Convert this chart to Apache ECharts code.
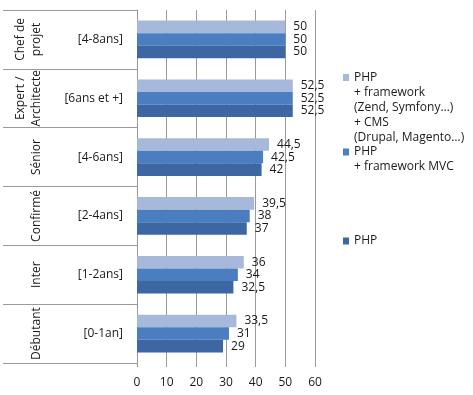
<!DOCTYPE html>
<html>
<head>
<meta charset="utf-8">
<script src="https://cdn.jsdelivr.net/npm/echarts@6/dist/echarts.min.js"></script>
<style>html,body{margin:0;padding:0;background:#fff}#c{width:473px;height:395px}</style>
</head>
<body>
<div id="c"></div>
<script>
var levels = ['Chef de\nprojet', 'Expert /\nArchitecte', 'Sénior', 'Confirmé', 'Inter', 'Débutant'];
var ranges = ['[4-8ans]', '[6ans et +]', '[4-6ans]', '[2-4ans]', '[1-2ans]', '[0-1an]'];
var nameCMS = 'PHP\n+ framework\n(Zend, Symfony…)\n+ CMS\n(Drupal, Magento…)';
var nameMVC = 'PHP\n+ framework MVC';
var namePHP = 'PHP';
var valuesCMS = [50, 52.5, 44.5, 39.5, 36, 33.5];
var valuesMVC = [50, 52.5, 42.5, 38, 34, 31];
var valuesPHP = [50, 52.5, 42, 37, 32.5, 29];
var xTicks = [0, 10, 20, 30, 40, 50, 60];

var FONT = 'Open Sans';
var TXT = '#1a1a1a';
var GRID = '#9a9a9a';

function fmt(v) { return String(v).replace('.', ','); }
function legendFmt(name) {
  var n = name.split('\n').length - 1;
  return new Array(n + 1).join('\n') + name;
}
function mkLegend(name, top) {
  return {
    data: [name], left: 343, top: top, padding: 0, orient: 'vertical',
    itemWidth: 6, itemHeight: 7, icon: 'rect', selectedMode: false,
    formatter: legendFmt,
    textStyle: { fontFamily: FONT, fontSize: 12, color: TXT, lineHeight: 15 }
  };
}
function mkSeries(name, data, color) {
  return {
    name: name, type: 'bar', data: data, yAxisIndex: 0,
    barGap: '0%', barCategoryGap: '36%',
    itemStyle: { color: color },
    label: { show: true, position: 'right', distance: 8, formatter: function (p) { return fmt(p.value); },
      fontFamily: FONT, fontSize: 12, color: TXT }
  };
}

var chart = echarts.init(document.getElementById('c'), null, { renderer: 'canvas' });
chart.setOption({
  animation: false,
  backgroundColor: '#fff',
  textStyle: { fontFamily: FONT },
  grid: { left: 137, right: 158, top: 10, bottom: 32, containLabel: false },
  legend: [
    mkLegend(nameCMS, 10),
    mkLegend(nameMVC, 129.5),
    mkLegend(namePHP, 233.5)
  ],
  xAxis: {
    type: 'value', min: xTicks[0], max: xTicks[xTicks.length - 1], interval: 10,
    axisLine: { show: false },
    axisTick: { show: true, length: 4, lineStyle: { color: GRID } },
    splitLine: { show: true, lineStyle: { color: GRID } },
    axisLabel: { margin: 14, fontFamily: FONT, fontSize: 12, color: TXT }
  },
  yAxis: [
    {
      type: 'category', inverse: true, data: ranges,
      axisLine: { show: true, lineStyle: { color: GRID } },
      axisTick: { show: true, length: 134, lineStyle: { color: GRID } },
      axisLabel: { interval: 0, margin: 14, fontFamily: FONT, fontSize: 12, color: TXT }
    },
    {
      type: 'category', inverse: true, data: levels, position: 'left', offset: 84,
      axisLine: { show: false }, axisTick: { show: false },
      axisLabel: { interval: 0, rotate: 90, hideOverlap: false, margin: 8, fontFamily: FONT, fontSize: 12, color: TXT, lineHeight: 16 }
    }
  ],
  series: [
    mkSeries(nameCMS, valuesCMS, '#A7B9DB'),
    mkSeries(nameMVC, valuesMVC, '#4A7EC1'),
    mkSeries(namePHP, valuesPHP, '#3D67A3')
  ]
});
</script>
</body>
</html>
